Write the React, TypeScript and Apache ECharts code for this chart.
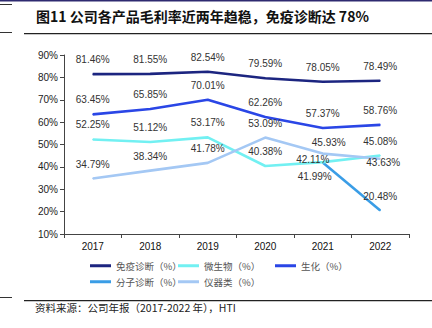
import React, { useEffect, useRef } from "react";
import * as echarts from "echarts";

const years = ["2017", "2018", "2019", "2020", "2021", "2022"];
const immuno = [81.46, 81.55, 82.54, 79.59, 78.05, 78.49];
const micro = [52.25, 51.12, 53.17, 40.38, 42.11, 45.08];
const biochem = [63.45, 65.85, 70.01, 62.26, 57.37, 58.76];
const molecular = [null, null, null, null, 41.99, 20.48];
const instrument = [34.79, 38.34, 41.78, 53.09, 45.93, 43.63];

const names = ["免疫诊断（%）", "微生物（%）", "生化（%）", "分子诊断（%）", "仪器类（%）"];
const colors = ["#1c2580", "#72f0f2", "#2a46e6", "#3a9de6", "#a4c8f4"];

const title = "图11 公司各产品毛利率近两年趋稳，免疫诊断达 78%";
const source = "资料来源：公司年报（2017-2022 年），HTI";

// label offsets for a few crowded points: [seriesIndex, dataIndex, offset]
const labelTweaks: [number, number, number[]][] = [
  [1, 4, [-10, 12]],
  [4, 4, [6, 3]],
  [4, 5, [3, 18]],
];

export default function App() {
  const ref = useRef<HTMLDivElement>(null);
  useEffect(() => {
    document.body.style.margin = "0";
    const chart = echarts.init(ref.current!, null, { renderer: "svg" });
    const raw = [immuno, micro, biochem, molecular, instrument];
    const series = raw.map((arr, si) => ({
      name: names[si],
      type: "line",
      data: arr.map((v, di) => {
        if (v === null) return null;
        const tw = labelTweaks.find((t) => t[0] === si && t[1] === di);
        if (si === 3 && di === 4) {
          return {
            value: v,
            label: { position: "bottom", distance: 8, offset: [-8, 1] },
          };
        }
        return tw ? { value: v, label: { offset: tw[2] } } : v;
      }),
      color: colors[si],
      symbol: "circle",
      symbolSize: 1,
      showSymbol: true,
      lineStyle: { width: 2.6, color: colors[si] },
      itemStyle: { color: colors[si] },
      label: {
        show: true,
        position: "top",
        distance: 9,
        formatter: (p: any) => p.value.toFixed(2) + "%",
        fontFamily: "Liberation Sans, Arial",
        fontSize: 10,
        color: "#333",
      },
      z: si === 3 ? 1 : 2,
    }));
    const legendPos = [
      [90, 261],
      [178, 261],
      [275, 261],
      [90, 277],
      [178, 277],
    ];
    const legend = names.map((n, i) => ({
      data: [n],
      left: legendPos[i][0],
      top: legendPos[i][1],
      icon: "rect",
      itemWidth: 21,
      itemHeight: 3,
      textStyle: {
        fontFamily: "Noto Sans CJK SC",
        fontSize: 9.5,
        color: "#555",
      },
      padding: 0,
    }));
    chart.setOption({
      animation: false,
      grid: { left: 64, right: 23, top: 55, bottom: 94 },
      xAxis: {
        type: "category",
        data: years,
        boundaryGap: true,
        axisLine: { lineStyle: { color: "#444", width: 1 } },
        axisTick: { show: true, length: 4, lineStyle: { color: "#444" } },
        axisLabel: {
          fontFamily: "Liberation Sans, Arial",
          fontSize: 10,
          color: "#111",
          margin: 7,
        },
      },
      yAxis: {
        type: "value",
        min: 10,
        max: 90,
        interval: 10,
        splitLine: { show: false },
        axisLine: { show: true, lineStyle: { color: "#444", width: 1 } },
        axisTick: { show: true, length: 4, lineStyle: { color: "#444" } },
        axisLabel: {
          formatter: "{value}%",
          fontFamily: "Liberation Sans, Arial",
          fontSize: 10,
          color: "#222",
          margin: 6,
        },
      },
      legend,
      series,
      graphic: [
        { type: "rect", shape: { x: 0, y: 0, width: 432, height: 1.5 }, style: { fill: "#2e2a70" } },
        { type: "rect", shape: { x: 0, y: 4, width: 12, height: 1 }, style: { fill: "#333" } },
        { type: "rect", shape: { x: 0, y: 32, width: 12, height: 1 }, style: { fill: "#333" } },
        { type: "rect", shape: { x: 24, y: 33, width: 408, height: 1.2 }, style: { fill: "#222" } },
        { type: "rect", shape: { x: 0, y: 297, width: 12, height: 1 }, style: { fill: "#333" } },
        { type: "rect", shape: { x: 24, y: 300, width: 408, height: 1.2 }, style: { fill: "#222" } },
        {
          type: "text",
          left: 36,
          top: 9,
          style: {
            text: title,
            fontFamily: "Noto Sans CJK SC",
            fontWeight: "bold",
            fontSize: 14,
            fill: "#111",
          },
        },
        {
          type: "text",
          left: 35,
          top: 302,
          style: {
            text: source,
            fontFamily: "Noto Sans CJK SC",
            fontSize: 10.5,
            fill: "#222",
          },
        },
      ],
    });
    return () => chart.dispose();
  }, []);
  return <div ref={ref} style={{ width: 432, height: 328 }} />;
}
